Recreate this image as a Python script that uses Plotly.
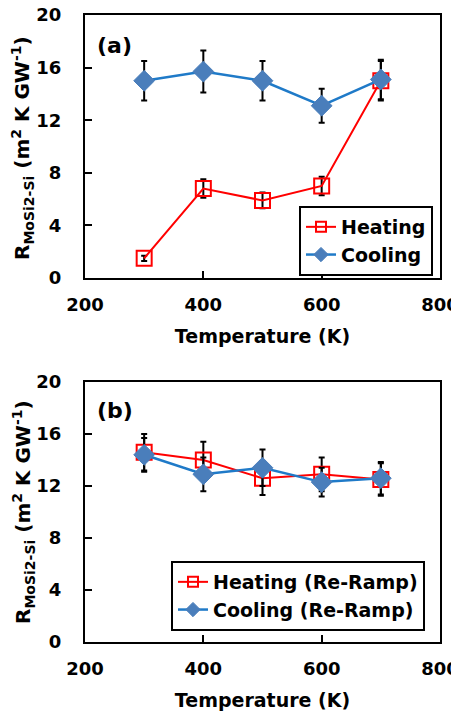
import plotly.graph_objects as go

temps = [300, 400, 500, 600, 700]

# Panel (a)
heat_a = [1.5, 6.8, 5.9, 7.0, 15.0]
heat_a_err = [0.2, 0.7, 0.6, 0.7, 1.5]
cool_a = [15.0, 15.7, 15.0, 13.1, 15.1]
cool_a_err = [1.5, 1.6, 1.5, 1.3, 1.5]

# Panel (b)
heat_b = [14.6, 14.0, 12.6, 12.9, 12.5]
heat_b_err = [1.4, 1.4, 1.3, 1.3, 1.25]
cool_b = [14.4, 12.9, 13.4, 12.3, 12.6]
cool_b_err = [1.3, 1.3, 1.4, 1.1, 1.25]

x_ticks = [200, 400, 600, 800]
y_ticks = [0, 4, 8, 12, 16, 20]

RED = "#FF0000"
BLUE_LINE = "#1F7AC8"
BLUE_MARK = "#4A7EBB"
FONT = "DejaVu Sans"

# the page body has an 8px margin, so the figure starts at (8, 8) in the window
OFF = 8
W, H = 451, 710

fig = go.Figure()

def add_pair(heat, heat_err, cool, cool_err, xa, ya, names, legend):
    fig.add_trace(go.Scatter(
        x=temps, y=heat, xaxis=xa, yaxis=ya, showlegend=False,
        mode="lines+markers",
        line=dict(color=RED, width=2),
        marker=dict(symbol="square-open", size=15, color=RED, line=dict(width=2, color=RED)),
        error_y=dict(type="data", array=heat_err, color="black", thickness=2, width=3),
    ))
    fig.add_trace(go.Scatter(
        x=temps, y=cool, xaxis=xa, yaxis=ya, showlegend=False,
        mode="lines+markers",
        line=dict(color=BLUE_LINE, width=2.5),
        marker=dict(symbol="diamond", size=16, color=BLUE_MARK, line=dict(width=1, color=BLUE_MARK)),
        error_y=dict(type="data", array=cool_err, color="black", thickness=2, width=3),
    ))
    # legend entries (smaller symbols, as in the reference legend)
    fig.add_trace(go.Scatter(
        x=[None], y=[None], name=names[0], xaxis=xa, yaxis=ya, legend=legend,
        mode="lines+markers", line=dict(color=RED, width=2),
        marker=dict(symbol="square-open", size=10, color=RED, line=dict(width=2, color=RED)),
    ))
    fig.add_trace(go.Scatter(
        x=[None], y=[None], name=names[1], xaxis=xa, yaxis=ya, legend=legend,
        mode="lines+markers", line=dict(color=BLUE_LINE, width=2.5),
        marker=dict(symbol="diamond", size=11, color=BLUE_MARK, line=dict(width=1, color=BLUE_MARK)),
    ))

add_pair(heat_a, heat_a_err, cool_a, cool_a_err, "x", "y", ["Heating", "Cooling"], "legend")
add_pair(heat_b, heat_b_err, cool_b, cool_b_err, "x2", "y2",
         ["Heating (Re-Ramp)", "Cooling (Re-Ramp)"], "legend2")

def px_x(p):
    return (p - OFF) / W

def px_y(p):
    return 1 - (p - OFF) / H

axis_common = dict(
    showline=True, linewidth=2, linecolor="black", mirror=True,
    ticks="inside", ticklen=7, tickwidth=2, tickcolor="black",
    showgrid=False, zeroline=False, automargin=False,
    ticklabeloverflow="allow",
    tickfont=dict(family=FONT, size=18, color="black", weight="bold"),
)

xdom = [px_x(85), px_x(440)]
xtitle = dict(text="Temperature (K)", font=dict(family=FONT, size=19, weight="bold"), standoff=16)

fig.update_layout(
    width=W, height=H,
    margin=dict(l=0, r=0, t=0, b=0, autoexpand=False),
    paper_bgcolor="white", plot_bgcolor="white",
    font=dict(family=FONT, color="black"),
    xaxis=dict(domain=xdom, range=[200, 800], tickvals=x_ticks, anchor="y",
               ticklabelstandoff=9, title=xtitle, **axis_common),
    yaxis=dict(domain=[px_y(278), px_y(15)], range=[0, 20], tickvals=y_ticks, anchor="x",
               ticklabelstandoff=18, **axis_common),
    xaxis2=dict(domain=xdom, range=[200, 800], tickvals=x_ticks, anchor="y2",
                ticklabelstandoff=9, title=xtitle, **axis_common),
    yaxis2=dict(domain=[px_y(642), px_y(382)], range=[0, 20], tickvals=y_ticks, anchor="x2",
                ticklabelstandoff=18, **axis_common),
    legend=dict(x=px_x(433), y=px_y(206), xanchor="right", yanchor="top",
                bordercolor="black", borderwidth=2, bgcolor="white",
                font=dict(family=FONT, size=19, weight="bold"), tracegroupgap=0,
                itemwidth=30),
    legend2=dict(x=px_x(425), y=px_y(561), xanchor="right", yanchor="top",
                 bordercolor="black", borderwidth=2, bgcolor="white",
                 font=dict(family=FONT, size=19, weight="bold"), tracegroupgap=0,
                 itemwidth=30),
    showlegend=True,
)

ytitle = "R<sub>MoSi2-Si</sub> (m<sup>2</sup> K GW<sup>-1</sup>)"
for yc in [148, 512]:
    fig.add_annotation(text=ytitle, xref="paper", yref="paper",
                       x=px_x(23), y=px_y(yc), textangle=-90, showarrow=False,
                       font=dict(size=20, weight="bold", family=FONT),
                       xanchor="center", yanchor="middle")

fig.add_annotation(text="(a)", xref="paper", yref="paper", x=px_x(95), y=px_y(45),
                   showarrow=False, xanchor="left", yanchor="middle",
                   font=dict(size=22, weight="bold", family=FONT))
fig.add_annotation(text="(b)", xref="paper", yref="paper", x=px_x(95), y=px_y(410),
                   showarrow=False, xanchor="left", yanchor="middle",
                   font=dict(size=22, weight="bold", family=FONT))

fig.write_html("out.html")
